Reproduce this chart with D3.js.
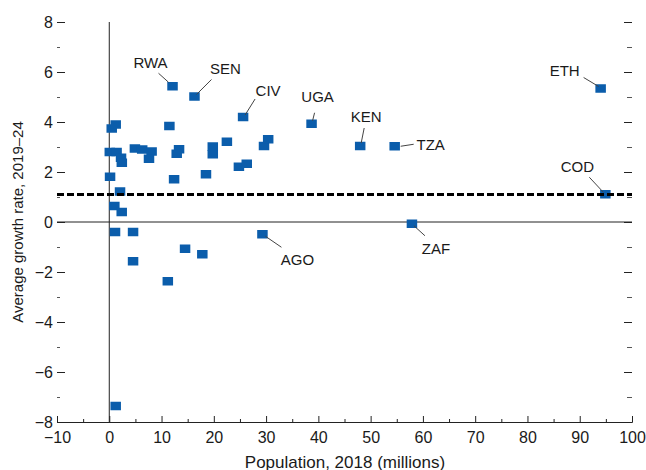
<!DOCTYPE html>
<html>
<head>
<meta charset="utf-8">
<script src="https://cdn.jsdelivr.net/npm/d3@7/dist/d3.min.js"></script>
<style>
  html, body { margin: 0; padding: 0; background: #ffffff; }
  svg { display: block; }
  text { font-family: "Liberation Sans", Arial, Helvetica, sans-serif; fill: #1a1a1a; }
</style>
</head>
<body>
<svg id="chart" width="646" height="470"></svg>
<script>
// ---- Data ----
const countryCodes = ["RWA","SEN","CIV","UGA","KEN","TZA","ETH","COD","ZAF","AGO",
  "","","","","","","","","","","","","","","","","","","","","","","","","","","","","","","","",""];
const population = [12.1, 16.3, 25.6, 38.7, 48.0, 54.6, 94.0, 94.9, 57.9, 29.3,
  0.47, 1.23, 11.5, 0.1, 1.4, 2.25, 2.4, 4.9, 6.3, 8.1, 7.6, 13.35, 12.9, 0.15, 12.4, 2.06,
  18.5, 19.8, 19.8, 22.5, 24.8, 26.3, 29.6, 30.4, 0.97, 2.38, 1.1, 4.55, 14.5, 17.8, 4.55, 11.2, 1.23];
const growthRate = [5.43, 5.02, 4.2, 3.93, 3.04, 3.03, 5.34, 1.11, -0.07, -0.49,
  3.74, 3.9, 3.84, 2.8, 2.8, 2.57, 2.37, 2.94, 2.9, 2.82, 2.53, 2.91, 2.73, 1.81, 1.71, 1.22,
  1.91, 3.02, 2.71, 3.21, 2.21, 2.33, 3.04, 3.31, 0.64, 0.4, -0.4, -0.4, -1.07, -1.29, -1.57, -2.37, -7.36];
const referenceGrowth = 1.1;
const xMajorTicks = [-10, 0, 10, 20, 30, 40, 50, 60, 70, 80, 90, 100];
const xMinorTicks = [-5, 5, 15, 25, 35, 45, 55, 65, 75, 85, 95];
const yMajorTicks = [-8, -6, -4, -2, 0, 2, 4, 6, 8];
const yMinorTicks = [-7, -5, -3, -1, 1, 3, 5, 7];
const xTitle = "Population, 2018 (millions)";
const yTitle = "Average growth rate, 2019–24";

// ---- Label layout (pixel offsets from marker) ----
const labelLayout = {
  RWA: {t: [-22, -24], a: [-4, -4], b: [-14, -13]},
  SEN: {t: [31, -28], a: [2, -2], b: [17, -17]},
  CIV: {t: [25, -27], a: [2, -2], b: [12, -18]},
  UGA: {t: [6, -27], a: [1, -3], b: [3, -11]},
  KEN: {t: [6, -30], a: [1, -3], b: [4, -18]},
  TZA: {t: [36, -2], a: [6, 0], b: [19, -2]},
  ETH: {t: [-36, -18], a: [-2, -2], b: [-17, -11]},
  COD: {t: [-28, -28], a: [-2, -2], b: [-16, -17]},
  ZAF: {t: [24, 25], a: [2, 2], b: [13, 12]},
  AGO: {t: [35, 25], a: [3, 2], b: [19, 13]}
};

const W = 646, H = 470;
const margin = {top: 22, right: 14, bottom: 48, left: 57};
const svg = d3.select("#chart");

const x = d3.scaleLinear().domain([-10, 100]).range([margin.left, W - margin.right]);
const y = d3.scaleLinear().domain([-8, 8]).range([H - margin.bottom, margin.top]);

const points = population.map((p, i) => ({pop: p, g: growthRate[i], code: countryCodes[i]}));

const axisColor = "#222";

// Bottom axis
const gx = svg.append("g").attr("transform", `translate(0,${y(-8)})`)
  .call(d3.axisBottom(x).tickValues(xMajorTicks).tickSize(-6).tickPadding(10)
    .tickFormat(d => d < 0 ? "\u2212" + Math.abs(d) : d));
gx.select(".domain").attr("stroke", axisColor);
gx.selectAll(".tick line").attr("stroke", axisColor);
gx.selectAll("text").attr("font-size", 16).attr("fill", "#1a1a1a").style("font-family", "'Liberation Sans', Arial, sans-serif");
const gxm = svg.append("g").attr("transform", `translate(0,${y(-8)})`)
  .call(d3.axisBottom(x).tickValues(xMinorTicks).tickSize(-3).tickFormat(""));
gxm.select(".domain").remove();
gxm.selectAll(".tick line").attr("stroke", axisColor);

// Left axis (inward ticks, no domain)
const gy = svg.append("g").attr("transform", `translate(${x(-10)},0)`)
  .call(d3.axisLeft(y).tickValues(yMajorTicks).tickSize(-8).tickPadding(4)
    .tickFormat(d => d < 0 ? "\u2212" + Math.abs(d) : d));
gy.select(".domain").remove();
gy.selectAll(".tick line").attr("stroke", axisColor);
gy.selectAll("text").attr("font-size", 16).attr("fill", "#1a1a1a").style("font-family", "'Liberation Sans', Arial, sans-serif");
const gym = svg.append("g").attr("transform", `translate(${x(-10)},0)`)
  .call(d3.axisLeft(y).tickValues(yMinorTicks).tickSize(-3).tickFormat(""));
gym.select(".domain").remove();
gym.selectAll(".tick line").attr("stroke", "#555");

// Right axis (inward ticks, no labels)
const gr = svg.append("g").attr("transform", `translate(${x(100)},0)`)
  .call(d3.axisRight(y).tickValues(yMajorTicks).tickSize(-8).tickFormat(""));
gr.select(".domain").remove();
gr.selectAll(".tick line").attr("stroke", axisColor);
const grm = svg.append("g").attr("transform", `translate(${x(100)},0)`)
  .call(d3.axisRight(y).tickValues(yMinorTicks).tickSize(-5).tickFormat(""));
grm.select(".domain").remove();
grm.selectAll(".tick line").attr("stroke", "#555");

// Zero lines
svg.append("line").attr("x1", x(-10)).attr("x2", x(100)).attr("y1", y(0)).attr("y2", y(0))
  .attr("stroke", axisColor).attr("stroke-width", 1);
svg.append("line").attr("x1", x(0)).attr("x2", x(0)).attr("y1", y(8)).attr("y2", y(-8))
  .attr("stroke", axisColor).attr("stroke-width", 1);

// Markers
const mw = 10.5, mh = 8.5;
svg.append("g").selectAll("rect").data(points).join("rect")
  .attr("x", d => x(d.pop) - mw / 2)
  .attr("y", d => y(d.g) - mh / 2)
  .attr("width", mw).attr("height", mh)
  .attr("fill", "#0b5dab");

// Reference dashed line
svg.append("line").attr("x1", x(-10)).attr("x2", x(100))
  .attr("y1", y(referenceGrowth)).attr("y2", y(referenceGrowth))
  .attr("stroke", "#000").attr("stroke-width", 3).attr("stroke-dasharray", "7,3");

// Labels with leaders
const labeled = points.filter(d => d.code && labelLayout[d.code]);
const lg = svg.append("g");
labeled.forEach(d => {
  const L = labelLayout[d.code];
  const px = x(d.pop), py = y(d.g);
  lg.append("line").attr("x1", px + L.a[0]).attr("y1", py + L.a[1])
    .attr("x2", px + L.b[0]).attr("y2", py + L.b[1])
    .attr("stroke", "#444").attr("stroke-width", 1);
  lg.append("text").attr("x", px + L.t[0]).attr("y", py + L.t[1])
    .attr("text-anchor", "middle").attr("dominant-baseline", "central")
    .attr("font-size", 15).text(d.code);
});

// Axis titles
svg.append("text").attr("x", 345).attr("y", 462)
  .attr("text-anchor", "middle").attr("dominant-baseline", "central")
  .attr("font-size", 17).text(xTitle);
svg.append("text").attr("transform", `translate(17,${(y(8) + y(-8)) / 2}) rotate(-90)`)
  .attr("text-anchor", "middle").attr("dominant-baseline", "central")
  .attr("font-size", 15).text(yTitle);
</script>
</body>
</html>
